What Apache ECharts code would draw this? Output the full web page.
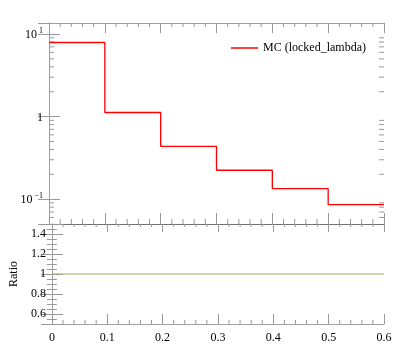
<!DOCTYPE html>
<html><head><meta charset="utf-8">
<script src="https://cdn.jsdelivr.net/npm/echarts@6/dist/echarts.min.js"></script>
<style>html,body{margin:0;padding:0;background:#fff}#c{width:397px;height:358px}</style>
</head><body><div id="c"></div>
<script>
const binEdges = [0, 0.1, 0.2, 0.3, 0.4, 0.5, 0.6];
const mcValues = [7.9, 1.12, 0.436, 0.224, 0.134, 0.0858];
const ratioValues = [1, 1, 1, 1, 1, 1];
const xTickLabels = ['0', '0.1', '0.2', '0.3', '0.4', '0.5', '0.6'];
const ratioTickLabels = ['0.6', '0.8', '1', '1.2', '1.4'];
const legendName = 'MC (locked_lambda)';

function stepData(vals) {
  const d = vals.map((v, i) => [binEdges[i], v]);
  d.push([binEdges[binEdges.length - 1], vals[vals.length - 1]]);
  return d;
}

// minor tick positions
const xMinor = [];
for (let i = 0; i < 6; i++) for (let k = 1; k < 5; k++) xMinor.push(+(i * 0.1 + k * 0.02).toFixed(3));
const logMinor = [];
[0.01, 0.1, 1, 10].forEach(d => { for (let k = 2; k <= 9; k++) { const v = +(d * k).toPrecision(3); if (v > 0.05 && v < 13.6) logMinor.push(v); } });

const FONT = 'Liberation Serif';
const frame = '#a0a0a0';
const sep = '#707070';
const tickCol = '#999999';

function xAx(gridIndex, position, lineCol, majLen, showLabel) {
  return {
    type: 'value', gridIndex, position, min: 0, max: 0.6, interval: 0.1,
    axisLine: { show: true, onZero: false, lineStyle: { color: lineCol, width: 1 } },
    axisTick: { show: true, inside: true, length: majLen, lineStyle: { color: tickCol } },
    minorTick: { show: false },
    splitLine: { show: false },
    axisLabel: {
      show: showLabel, margin: 8, color: '#000', fontFamily: FONT, fontSize: 12,
      formatter: v => { const i = Math.round(v * 10); return xTickLabels[i] !== undefined ? xTickLabels[i] : ''; }
    }
  };
}

function logLabel(v) {
  const e = Math.round(Math.log10(v));
  if (Math.abs(Math.log10(v) - e) > 1e-6) return '';
  if (e === 0) return '{b|1}';
  return '{b|10}{s|' + (e < 0 ? '\u2212' + (-e) : e) + '}';
}

function yLog(position, showLabel) {
  return {
    type: 'log', logBase: 10, gridIndex: 0, position, min: 0.05, max: 13.6,
    axisLine: { show: true, lineStyle: { color: frame } },
    axisTick: { show: true, inside: true, length: 11, lineStyle: { color: tickCol } },
    minorTick: { show: false },
    splitLine: { show: false },
    axisLabel: {
      show: showLabel, margin: 6, showMinLabel: false, showMaxLabel: false,
      color: '#000', fontFamily: FONT, fontSize: 12,
      formatter: logLabel,
      rich: {
        b: { fontFamily: FONT, fontSize: 12, color: '#000', lineHeight: 14, verticalAlign: 'bottom' },
        s: { fontFamily: FONT, fontSize: 8, color: '#000', lineHeight: 8, verticalAlign: 'top', padding: [0, 0, 0, 2] }
      }
    }
  };
}

function yRatio(position, showLabel) {
  return {
    type: 'value', gridIndex: 1, position, min: 0.5, max: 1.5, splitNumber: 5,
    axisLine: { show: true, lineStyle: { color: frame } },
    axisTick: { show: true, inside: true, length: 11, lineStyle: { color: tickCol } },
    minorTick: { show: true, splitNumber: 4, length: 5, lineStyle: { color: tickCol } },
    splitLine: { show: false },
    name: showLabel ? 'Ratio' : '', nameLocation: 'middle', nameGap: 31, nameRotate: 90,
    nameTextStyle: { fontFamily: FONT, fontSize: 12, color: '#000' },
    axisLabel: {
      show: showLabel, margin: 6, showMinLabel: false, showMaxLabel: false,
      color: '#000', fontFamily: FONT, fontSize: 12,
      formatter: v => {
        const s = ratioTickLabels.find(t => Math.abs(parseFloat(t) - v) < 1e-6);
        return s || '';
      }
    }
  };
}

function tickLine(x1, y1, x2, y2) {
  return { type: 'line', shape: { x1, y1, x2, y2 }, style: { stroke: tickCol, lineWidth: 1 }, silent: true };
}

const chart = echarts.init(document.getElementById('c'), null, { renderer: 'canvas' });
chart.setOption({
  animation: false,
  backgroundColor: '#fff',
  grid: [
    { left: 49, top: 23, width: 335, height: 201 },
    { left: 49, top: 224, width: 335, height: 100 }
  ],
  xAxis: [
    xAx(0, 'bottom', sep, 11, false),
    xAx(0, 'top', frame, 10, false),
    xAx(1, 'bottom', frame, 10, true),
    xAx(1, 'top', sep, 8, false)
  ],
  yAxis: [
    yLog('left', true),
    yLog('right', false),
    yRatio('left', true),
    yRatio('right', false)
  ],
  legend: {
    show: true, left: 226, top: 37, itemWidth: 27, itemHeight: 1.5, itemGap: 6,
    textStyle: { fontFamily: FONT, fontSize: 12, color: '#000' },
    data: [{ name: legendName, icon: 'rect', itemStyle: { color: '#ff0000' } }]
  },
  series: [
    {
      name: legendName, type: 'line', xAxisIndex: 0, yAxisIndex: 0, step: 'end',
      data: stepData(mcValues), symbol: 'none',
      lineStyle: { color: '#ff0000', width: 1.3 }, itemStyle: { color: '#ff0000' }
    },
    {
      name: 'ratio', type: 'line', xAxisIndex: 2, yAxisIndex: 2, step: 'end',
      data: stepData(ratioValues), symbol: 'none',
      lineStyle: { color: '#a8a860', width: 1.2 }, itemStyle: { color: '#a8a860' }
    },
    {
      name: 'xminor-top', type: 'custom', xAxisIndex: 0, yAxisIndex: 0, silent: true, clip: false,
      data: xMinor.map(x => [x]),
      renderItem: (params, api) => {
        const x = api.value(0);
        const b = api.coord([x, 0.05]);
        const t = api.coord([x, 13.6]);
        return { type: 'group', children: [tickLine(b[0], b[1], b[0], b[1] - 5), tickLine(t[0], t[1], t[0], t[1] + 4)] };
      }
    },
    {
      name: 'xminor-bot', type: 'custom', xAxisIndex: 2, yAxisIndex: 2, silent: true, clip: false,
      data: xMinor.map(x => [x]),
      renderItem: (params, api) => {
        const x = api.value(0);
        const b = api.coord([x, 0.5]);
        const t = api.coord([x, 1.5]);
        return { type: 'group', children: [tickLine(b[0], b[1], b[0], b[1] - 4), tickLine(t[0], t[1], t[0], t[1] + 3)] };
      }
    },
    {
      name: 'yminor', type: 'custom', xAxisIndex: 0, yAxisIndex: 0, silent: true, clip: false,
      data: logMinor.map(v => [0, v]),
      renderItem: (params, api) => {
        const v = api.value(1);
        const l = api.coord([0, v]);
        const r = api.coord([0.6, v]);
        return { type: 'group', children: [tickLine(l[0], l[1], l[0] + 5, l[1]), tickLine(r[0], r[1], r[0] - 5, r[1])] };
      }
    }
  ]
});
</script></body></html>
